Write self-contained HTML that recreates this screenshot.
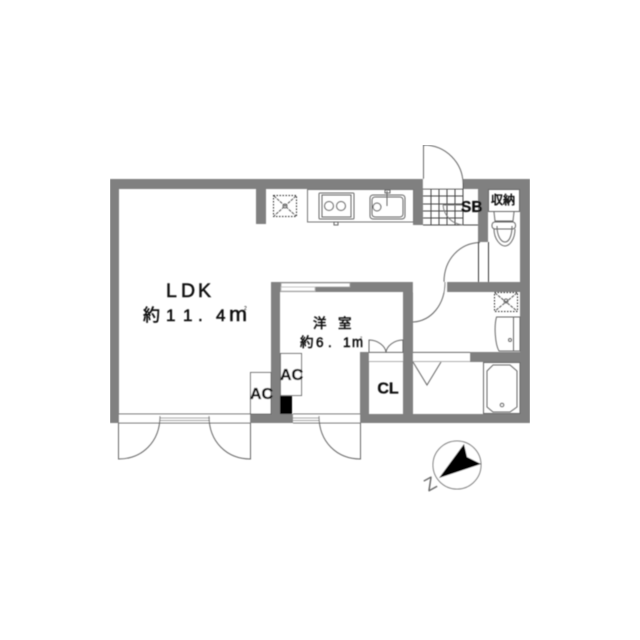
<!DOCTYPE html>
<html><head><meta charset="utf-8"><style>html,body{margin:0;padding:0;background:#fff;width:640px;height:640px;overflow:hidden}svg{display:block}text{font-family:"Liberation Sans","Noto Sans CJK JP",sans-serif;fill:#111}.m{stroke:#111;stroke-width:.55px}.n{stroke:#111;stroke-width:.3px;font-weight:bold}</style></head><body>
<svg width="640" height="640" viewBox="0 0 640 640">
<defs><filter id="b" x="0" y="0" width="100%" height="100%"><feGaussianBlur stdDeviation="0.4"/></filter></defs>
<rect width="640" height="640" fill="#fff"/>
<g filter="url(#b)">
<!-- walls -->
<g fill="#808080">
<rect x="110" y="179" width="420" height="10"/>
<rect x="110" y="179" width="9" height="244"/>
<rect x="520" y="179" width="10" height="244"/>
<rect x="250" y="414" width="43" height="9"/>
<rect x="360" y="414" width="170" height="9"/>
<rect x="256" y="189" width="10" height="35"/>
<rect x="413" y="189" width="10" height="36"/>
<rect x="478" y="189" width="10" height="53"/>
<rect x="271" y="282" width="142" height="10"/>
<rect x="447" y="282" width="83" height="10"/>
<rect x="271" y="282" width="9" height="132"/>
<rect x="403" y="282" width="10" height="132"/>
<rect x="360" y="352" width="9" height="62"/>
<rect x="470" y="352" width="50" height="10"/>
</g>
<g fill="#fff" stroke="none">
<!-- openings -->
<rect x="423" y="179" width="40" height="10"/>
<rect x="119" y="414" width="131" height="9"/>
<rect x="293" y="414" width="67" height="9"/>
<rect x="413" y="282" width="34" height="10"/>
<rect x="281" y="283" width="69" height="4" stroke="#999" stroke-width="1"/>
<rect x="281" y="287" width="34" height="4" stroke="#bbb" stroke-width="1"/>
<rect x="369" y="352" width="34" height="10"/>
<rect x="413" y="352" width="57" height="10"/>
</g>
<g fill="none" stroke="#666" stroke-width="1">
<path d="M369 352.500H403M413 352.500H470" stroke="#444"/>
<path d="M369 361.500H403M413 361.500H470" stroke="#aaa"/>
<path d="M119 414H250M293 414H360M119 423H250M293 423H360"/>
<path d="M160 418H210M160 420.500H210M293 418H319M293 420.500H319" stroke="#999"/>
<path d="M118.500 423V459C142 459 160 442 160 416"/>
<path d="M250.500 423V459C227 459 209 442 209 416"/>
<path d="M360.500 423V459C337 459 319 442 319 416"/>
<path d="M423.500 179V145C446 145 463 163 463 184"/>
<path d="M413 322C431 321 445 305 445 282"/>
<path d="M444 282C444 259 460 243 480 242.500"/>
<path d="M478.500 242V282M488.500 242V282" stroke="#333"/>
<path d="M369 352V340C378 340 385 346 386 352C387 346 394 340 403 340V352"/>
<!-- kitchen -->
<rect x="307.500" y="189.500" width="106" height="32.500" stroke="#777"/>
<rect x="319" y="193" width="35" height="26" rx="1"/>
<rect x="322" y="195" width="29" height="22"/>
<circle cx="329" cy="206" r="4.500"/><circle cx="341" cy="206" r="4.500"/>
<rect x="370" y="195" width="35" height="24" rx="3"/>
<rect x="372" y="197" width="31" height="20" rx="3"/>
<circle cx="377" cy="207" r="4"/>
<path d="M387 191V206M385 190H390V193H385Z"/>
<rect x="334" y="222" width="4" height="3"/>
<!-- vents -->
<rect x="273.500" y="195.500" width="23" height="21" stroke="#222" stroke-dasharray="1.500 1.500"/>
<path d="M274 196L296 216M296 196L274 216" stroke="#555" stroke-dasharray="3 1"/>
<circle cx="285" cy="206" r="2"/>
<rect x="494.500" y="292.500" width="23" height="19" stroke="#222" stroke-dasharray="1.500 1.500"/>
<path d="M495 293L517 311M517 293L495 311" stroke="#555" stroke-dasharray="3 1"/>
<circle cx="506" cy="301" r="2"/>
<!-- entry tiles -->
<path d="M431 189V225M439 189V225M447 189V225M455 189V225M463 183V225M423 189H463M423 196H463M423 204H463M423 211H463M423 218H463M423 225H478" stroke="#444"/>
<path d="M443 205H463M443 205C444 216 452 224 463 225" stroke="#777"/>
<!-- toilet room -->
<rect x="488.500" y="189.500" width="31" height="22"/>
<path d="M494 212L495 221H513L514 212"/>
<rect x="492" y="222" width="23.500" height="7" rx="3"/>
<path d="M494 229C494 240 501 246 505 246C509 246 515 240 515 229"/>
<path d="M497 226C497 236 501 242 505 242C509 242 512 236 512 226"/>
<!-- bath -->
<path d="M496.500 317H520V351H499C495 344 494 326 496.500 317Z"/>
<path d="M513.500 317V351"/>
<circle cx="510" cy="340" r="1.500"/>
<rect x="483.500" y="362.500" width="36.500" height="51"/>
<path d="M493 365H510L517 371V407L510 412H493L487 407V371Z"/>
<circle cx="502" cy="405" r="1.800"/>
<path d="M413 362L427 385L441 362"/>
<!-- AC boxes -->
<rect x="250.500" y="372.500" width="20.500" height="41.500" fill="#fff"/>
<rect x="280.500" y="353.500" width="21" height="42" fill="#fff"/>
</g>
<rect x="280" y="396" width="12" height="18" fill="#000"/>
<!-- compass -->
<circle cx="457" cy="465" r="24" fill="#fff" stroke="#777" stroke-width="1"/>
<polygon points="464,444 467,457 481,464 439,478" fill="#000"/>
<text font-size="18" text-anchor="middle" transform="translate(430,483.500) rotate(-29) translate(0,6.500)" style="fill:#666">Z</text>
<!-- labels -->
<text x="166 181 198" y="297" font-size="19.500" class="m">LDK</text>
<text x="143 166 183 198 216" y="321" font-size="17" class="m">約11.4</text>
<text x="229" y="321" font-size="20" textLength="18" lengthAdjust="spacingAndGlyphs" class="m">m</text>
<text x="244" y="310" font-size="5">2</text>
<text x="313 338" y="328" font-size="13.500" class="m">洋室</text>
<text x="300 316 328 343" y="347" font-size="13.500" class="m">約6.1</text>
<text x="352" y="347" font-size="15" textLength="11" lengthAdjust="spacingAndGlyphs" class="m">m</text>
<text x="360" y="339" font-size="4">2</text>
<text x="461" y="212" font-size="15.500" class="n">SB</text>
<text x="491" y="204" font-size="12" class="m">収納</text>
<text x="261.500" y="399" font-size="16" text-anchor="middle" class="n">AC</text>
<text x="291.500" y="380" font-size="16" text-anchor="middle" class="n">AC</text>
<text x="388" y="393.500" font-size="16" text-anchor="middle" class="n">CL</text>
</g>
</svg>
</body></html>
